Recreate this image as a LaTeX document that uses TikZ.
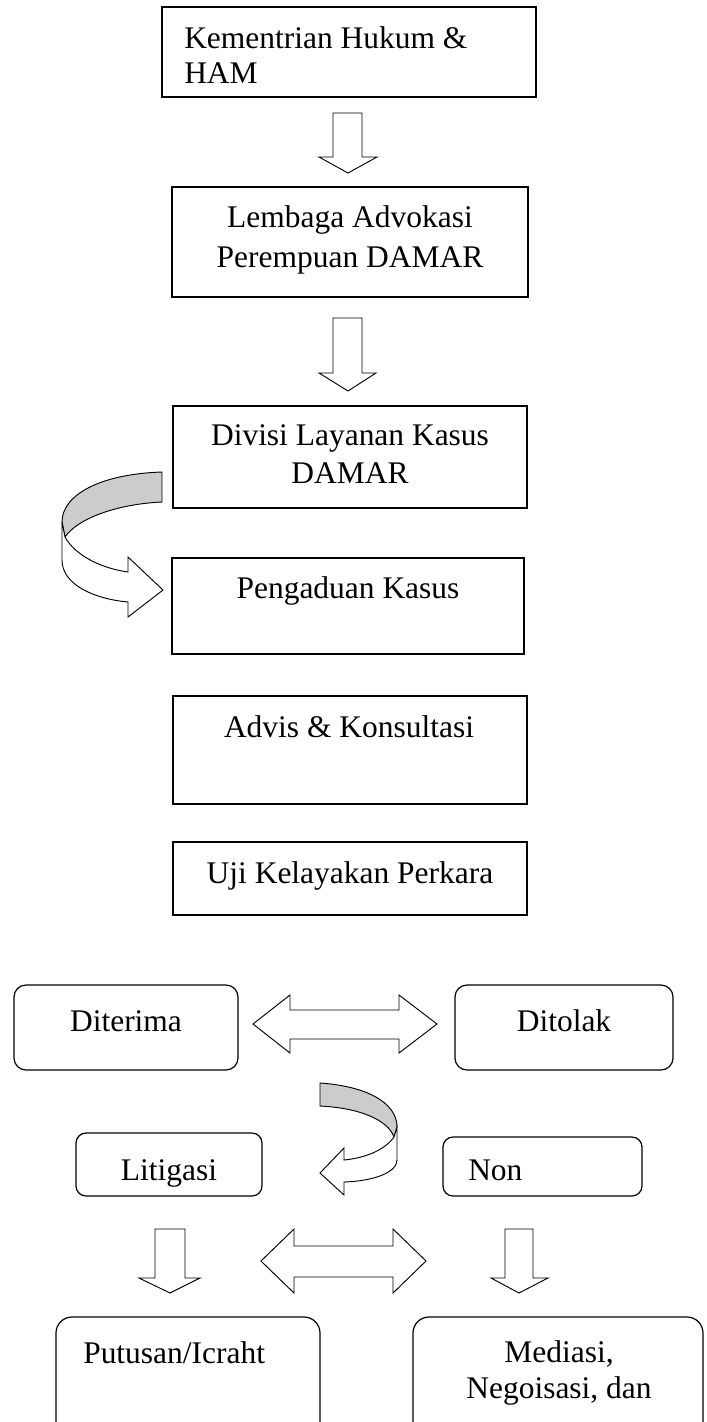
\documentclass[tikz,border=0pt]{standalone}
\usepackage{fontspec}
\setmainfont{Liberation Serif}
\usepackage{tikz}
\usepackage{xcolor}

\begin{document}
\begin{tikzpicture}[x=0.75pt,y=0.75pt,yscale=-1,xscale=1,
  box/.style={line width=0.9pt},
  rbox/.style={line width=0.9pt,rounded corners=9pt},
  barrow/.style={line width=0.7pt,fill=white,line join=miter},
  twist/.style={line width=0.7pt,fill=black!20},
  lbl/.style={inner sep=0.75pt,font=\fontsize{23.6}{28}\selectfont}]
\useasboundingbox (0,0) rectangle (707,1422);
\clip (0,0) rectangle (707,1422);

%Shape: Rectangle
\draw [box] (162,7) rectangle (536,97) ;
%Shape: Rectangle
\draw [box] (172,187) rectangle (528,297) ;
%Shape: Rectangle
\draw [box] (173,406) rectangle (527,508) ;
%Shape: Rectangle
\draw [box] (172,558) rectangle (524,654) ;
%Shape: Rectangle
\draw [box] (173,696) rectangle (527,804) ;
%Shape: Rectangle
\draw [box] (173,842) rectangle (527,915) ;
%Shape: Rounded Rect
\draw [rbox] (14,985) rectangle (238,1070) ;
%Shape: Rounded Rect
\draw [rbox] (455,985) rectangle (673,1070) ;
%Shape: Rounded Rect
\draw [rbox,rounded corners=7.5pt] (76,1133) rectangle (262,1196) ;
%Shape: Rounded Rect
\draw [rbox,rounded corners=7.5pt] (443,1137) rectangle (642,1196) ;
%Shape: Rounded Rect
\draw [rbox,rounded corners=12pt] (56,1317) rectangle (320,1450) ;
%Shape: Rounded Rect
\draw [rbox,rounded corners=12pt] (413,1317) rectangle (703,1450) ;

%Down Arrow
\draw [barrow] (333,113) -- (362,113) -- (362,157) -- (377,157) -- (348,173) -- (319,157) -- (333,157) -- cycle ;
%Down Arrow
\draw [barrow] (333,318) -- (362,318) -- (362,373) -- (376,373) -- (348,391) -- (319,373) -- (333,373) -- cycle ;
%Curved Arrow
\draw [twist] (162,472) .. controls (100,474) and (62,495) .. (62,522) -- (65,537) .. controls (78,518) and (118,504) .. (162,502) -- cycle ;
\draw [barrow] (62,522) -- (62,560) .. controls (62,585) and (95,599) .. (128,602) -- (128,617) -- (163,590) -- (128,557) -- (128,572) .. controls (100,568) and (75,555) .. (65,537) -- cycle ;
%Left Right Arrow
\draw [barrow] (253,1024) -- (290,995) -- (290,1010) -- (399,1010) -- (399,995) -- (437,1024) -- (399,1053) -- (399,1039) -- (290,1039) -- (290,1053) -- cycle ;
%Curved Arrow
\draw [twist] (320,1083) .. controls (365,1086) and (397,1102) .. (397,1127) -- (394,1137) .. controls (388,1120) and (360,1108) .. (320,1106) -- cycle ;
\draw [barrow] (397,1127) -- (397,1160) .. controls (397,1172) and (375,1181) .. (344,1182) -- (344,1195) -- (320,1173) -- (344,1148) -- (344,1160) .. controls (365,1158) and (385,1150) .. (394,1137) -- cycle ;
%Down Arrow
\draw [barrow] (155,1229) -- (185,1229) -- (185,1278) -- (200,1278) -- (170,1293) -- (139,1278) -- (155,1278) -- cycle ;
%Down Arrow
\draw [barrow] (505,1229) -- (533,1229) -- (533,1278) -- (548,1278) -- (519,1293) -- (491,1278) -- (505,1278) -- cycle ;
%Left Right Arrow
\draw [barrow] (261,1261) -- (294,1229) -- (294,1246) -- (393,1246) -- (393,1229) -- (426,1261) -- (393,1293) -- (393,1277) -- (294,1277) -- (294,1293) -- cycle ;

% Text Node
\draw (183,48) node [anchor=base west][lbl] (kemen) {Kementrian Hukum \&};
\draw (183,83) node [anchor=base west][lbl] (ham) {HAM};
% Text Node
\draw (350,227) node [anchor=base][lbl] (lembaga) {Lembaga Advokasi};
\draw (350,267) node [anchor=base][lbl] (perempuan) {Perempuan DAMAR};
% Text Node
\draw (350,445) node [anchor=base][lbl] (divisi) {Divisi Layanan Kasus};
\draw (350,483) node [anchor=base][lbl] (damar) {DAMAR};
% Text Node
\draw (348,598) node [anchor=base][lbl] (pengaduan) {Pengaduan Kasus};
\draw (349,737) node [anchor=base][lbl] (advis) {Advis \& Konsultasi};
\draw (350,883) node [anchor=base][lbl] (uji) {Uji Kelayakan Perkara};
% Text Node
\draw (126,1031) node [anchor=base][lbl] (diterima) {Diterima};
\draw (564,1031) node [anchor=base][lbl] (ditolak) {Ditolak};
\draw (169,1180) node [anchor=base][lbl] (litigasi) {Litigasi};
\draw (467,1180) node [anchor=base west][lbl] (non) {Non};
% Text Node
\draw (82,1363) node [anchor=base west][lbl] (putusan) {Putusan/Icraht};
\draw (559,1362) node [anchor=base][lbl] (mediasi) {Mediasi,};
\draw (559,1398) node [anchor=base][lbl] (negoisasi) {Negoisasi, dan};
\end{tikzpicture}
\end{document}
